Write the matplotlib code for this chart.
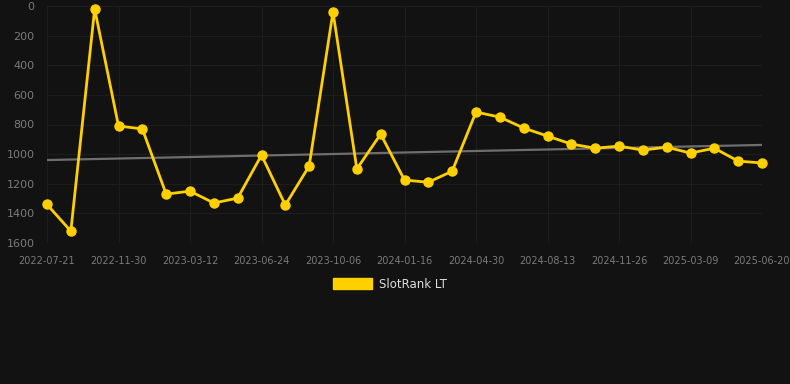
import matplotlib
matplotlib.use("Agg")
import matplotlib.pyplot as plt
from matplotlib.patches import Patch

# data
tick_labels = ["2022-07-21", "2022-11-30", "2023-03-12", "2023-06-24", "2023-10-06",
               "2024-01-16", "2024-04-30", "2024-08-13", "2024-11-26", "2025-03-09",
               "2025-06-20"]
rank = [1340, 1520, 20, 810, 830, 1270, 1250, 1330, 1297, 1007,
        1344, 1080, 40, 1100, 865, 1175, 1190, 1115, 716, 750,
        824, 878, 932, 960, 946, 973, 953, 993, 960, 1047, 1060]
trend_ends = [1040, 938]

bg = "#121212"
yellow = "#FFD000"

fig = plt.figure(figsize=(7.9, 3.84), dpi=100, facecolor=bg)
ax = fig.add_axes([47 / 790, 1 - 243 / 384, (762 - 47) / 790, (243 - 6) / 384])
ax.set_facecolor(bg)

x = list(range(len(rank)))
ax.plot([x[0], x[-1]], trend_ends, color="#6e6e6e", lw=1.6, zorder=2)
ax.plot(x, rank, color=yellow, lw=2.0, marker="o", ms=6.5, zorder=3, clip_on=False)

ax.set_xlim(0, len(rank) - 1)
ax.set_ylim(1600, 0)
ax.set_yticks(range(0, 1601, 200))
ax.set_xticks(x[::3])
ax.set_xticklabels(tick_labels)

ax.grid(True, color="#1d1d1d", lw=0.8)
ax.set_axisbelow(True)
for s in ax.spines.values():
    s.set_visible(False)
ax.tick_params(axis="x", colors="#7a7a7a", labelsize=7, length=0, pad=9)
ax.tick_params(axis="y", colors="#7a7a7a", labelsize=8, length=0, pad=9)

fig.legend(handles=[Patch(facecolor=yellow, edgecolor=yellow)], labels=["SlotRank LT"],
           loc="center", bbox_to_anchor=(390 / 790, 1 - 284 / 384), frameon=False,
           fontsize=8.5, labelcolor="#dddddd", handlelength=3.3, handleheight=1.0,
           handletextpad=0.6)

fig.savefig("out.png", dpi=100, facecolor=bg)
